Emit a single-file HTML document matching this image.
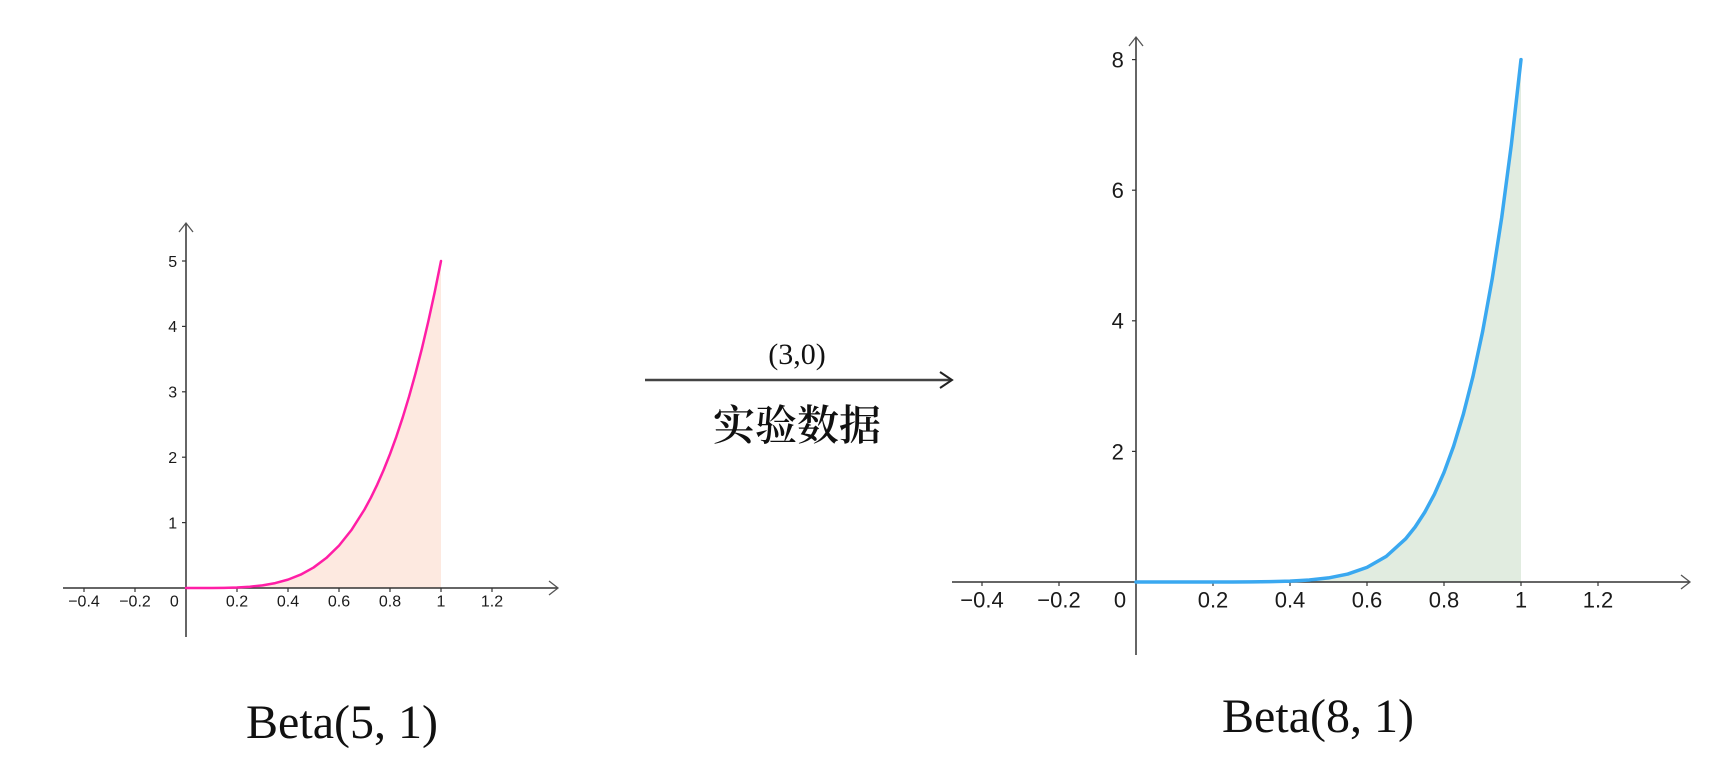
<!DOCTYPE html>
<html><head><meta charset="utf-8"><style>
html,body{margin:0;padding:0;background:#fff;}
svg{display:block}
.tk{font-family:"Liberation Sans","DejaVu Sans",sans-serif;fill:#1a1a1a}
.ttl{font-family:"Liberation Serif","DejaVu Serif",serif;fill:#111}
</style></head><body>
<svg id="svg" width="1722" height="765" viewBox="0 0 1722 765" xmlns="http://www.w3.org/2000/svg">
<g id="left"></g>
<g id="right"></g>
<g>
<line x1="645" y1="380" x2="950" y2="380" stroke="#444" stroke-width="2.5"/>
<path d="M940,372 L952,380 L940,388" fill="none" stroke="#222" stroke-width="2"/>
<text x="797" y="364" text-anchor="middle" class="ttl" font-size="30">(3,0)</text>
<text x="797" y="440" text-anchor="middle" font-family="'Noto Serif CJK SC','Noto Sans CJK SC',serif" font-weight="600" font-size="42" fill="#111">实验数据</text>
</g>
<text x="342" y="738" text-anchor="middle" class="ttl" font-size="48">Beta(5, 1)</text>
<text x="1318" y="732" text-anchor="middle" class="ttl" font-size="48">Beta(8, 1)</text>
</svg>
<script>
const xs = [0,.05,.1,.15,.2,.25,.3,.35,.4,.45,.5,.55,.6,.65,.7,.725,.75,.775,.8,.825,.85,.875,.9,.925,.95,.975,1];
const beta51 = [0,0.00003,0.0005,0.0025,0.008,0.0195,0.0405,0.075,0.128,0.205,0.3125,0.458,0.648,0.893,1.2005,1.381,1.582,1.804,2.048,2.316,2.61,2.931,3.2805,3.660,4.073,4.518,5];
const beta81 = [0,0,0,0,0.0001,0.0005,0.0017,0.0051,0.0131,0.0299,0.0625,0.1218,0.2239,0.3922,0.6588,0.8423,1.068,1.3434,1.6777,2.081,2.565,3.1416,3.826,4.635,5.586,6.701,8];
const xTicks = [-0.4,-0.2,0.2,0.4,0.6,0.8,1,1.2];
const xTickLabels = ["\u22120.4","\u22120.2","0.2","0.4","0.6","0.8","1","1.2"];
const yTicksLeft = [1,2,3,4,5];
const yTicksRight = [2,4,6,8];

const NS="http://www.w3.org/2000/svg";
function mk(parent,tag,attrs){const e=document.createElementNS(NS,tag);for(const k in attrs)e.setAttribute(k,attrs[k]);parent.appendChild(e);return e;}

function chart(g,cfg,ys,yTicks){
  const X=v=>cfg.ox+v*cfg.sx, Y=v=>cfg.oy-v*cfg.sy;
  let d="M"+X(xs[0])+","+Y(0);
  xs.forEach((x,i)=>{d+=" L"+X(x)+","+Y(ys[i]);});
  d+=" L"+X(xs[xs.length-1])+","+Y(0)+" Z";
  const area=mk(g,"path",{d:d,fill:cfg.fill});
  
  
  const xa=mk(g,"line",{x1:cfg.xl,y1:cfg.oy,x2:cfg.xr,y2:cfg.oy,stroke:"#333","stroke-width":1.5});
  
  
  mk(g,"path",{d:`M${cfg.xr-9},${cfg.oy-7} L${cfg.xr},${cfg.oy} L${cfg.xr-9},${cfg.oy+7}`,fill:"none",stroke:"#555","stroke-width":1.3});
  const ya=mk(g,"line",{x1:cfg.ox,y1:cfg.yt,x2:cfg.ox,y2:cfg.yb,stroke:"#333","stroke-width":1.5});
  
  
  mk(g,"path",{d:`M${cfg.ox-7},${cfg.yt+9} L${cfg.ox},${cfg.yt} L${cfg.ox+7},${cfg.yt+9}`,fill:"none",stroke:"#555","stroke-width":1.3});
  xTicks.forEach((t,i)=>{
    mk(g,"line",{x1:X(t),y1:cfg.oy,x2:X(t),y2:cfg.oy+4,stroke:"#333","stroke-width":1.2});
    const tx=mk(g,"text",{x:X(t),y:cfg.oy+cfg.fs*1.15,"text-anchor":"middle",class:"tk","font-size":cfg.fs});
    tx.textContent=xTickLabels[i];
    
    
  });
  const z=mk(g,"text",{x:cfg.ox-cfg.fs*0.45,y:cfg.oy+cfg.fs*1.15,"text-anchor":"end",class:"tk","font-size":cfg.fs});
  z.textContent="0";
  
  
  yTicks.forEach(t=>{
    mk(g,"line",{x1:cfg.ox-4,y1:Y(t),x2:cfg.ox,y2:Y(t),stroke:"#333","stroke-width":1.2});
    const tx=mk(g,"text",{x:cfg.ox-cfg.fs*0.55,y:Y(t)+cfg.fs*0.36,"text-anchor":"end",class:"tk","font-size":cfg.fs});
    tx.textContent=String(t);
    
    
  });
  const pts=xs.map((x,i)=>X(x)+","+Y(ys[i])).join(" ");
  const c=mk(g,"polyline",{points:pts,fill:"none",stroke:cfg.stroke,"stroke-width":cfg.sw,"stroke-linejoin":"round","stroke-linecap":"round"});
  
  
}
chart(document.getElementById("left"),{ox:186,oy:588,sx:255,sy:65.4,xl:63,xr:558,yt:223,yb:637,fs:16,fill:"#fde9e0",stroke:"#ff1ea6",sw:2.5},beta51,yTicksLeft);
chart(document.getElementById("right"),{ox:1136,oy:582,sx:385,sy:65.3,xl:952,xr:1690,yt:37,yb:655,fs:22,fill:"#e1ece0",stroke:"#3aa8f0",sw:3.5},beta81,yTicksRight);
</script>
</body></html>
